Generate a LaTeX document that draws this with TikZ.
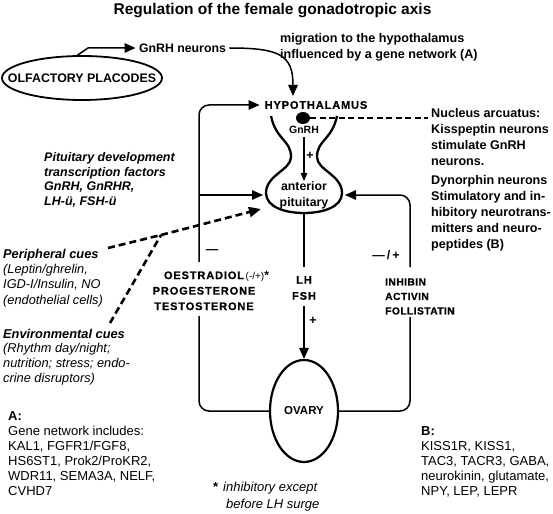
\documentclass[tikz,border=0pt]{standalone}
\usepackage{fontspec}
\setmainfont{Liberation Sans}
\newfontfamily\spc{Liberation Sans Bold}[LetterSpace=8, FakeBold=0.5]
\newfontfamily\spcb{Liberation Sans Bold}[LetterSpace=4, FakeBold=0.5]
\usetikzlibrary{arrows.meta,shapes.geometric,calc}
\begin{document}
\begin{tikzpicture}[x=1pt,y=-1pt,
  conn/.style={line width=1.5pt},
  arr/.style={-{Triangle[length=11pt,width=9.5pt]}},
  dsh/.style={line width=2.6pt, dash pattern=on 7pt off 4pt},
  diag/.style={font=\spc\fontsize{11}{15.5}\selectfont, align=center, inner sep=0pt},
  ann/.style={font=\bfseries\fontsize{12.6}{16}\selectfont, align=left, inner sep=0pt},
  plain/.style={font=\fontsize{13}{15}\selectfont, align=left, inner sep=0pt},
  sign/.style={font=\bfseries\fontsize{12.5}{14}\selectfont, inner sep=0pt}
]
\fill[white] (0,0) rectangle (553,513);
\useasboundingbox (0,0) rectangle (553,513);

% title
\node[font=\bfseries\fontsize{15.5}{18}\selectfont] (title) at (272.5,11) {Regulation of the female gonadotropic axis};

% olfactory placodes and GnRH neurons
\node[ellipse, draw, line width=1.8pt, minimum width=160pt, minimum height=44pt, inner sep=0pt,
  label={[font=\bfseries\fontsize{12.4}{14}\selectfont]center:OLFACTORY PLACODES}] (olf) at (82,78) {};
\node[font=\bfseries\fontsize{12.3}{14}\selectfont] (gnrhn) at (182.5,48) {GnRH neurons};
\coordinate (bend) at (88,48);
\draw[conn, arr] (olf.101) -- (bend) -- (gnrhn.west);

\node[ann, anchor=west] (mig) at (280,47) {migration to the hypothalamus\\influenced by a gene network (A)};

% hypothalamus
\node[diag] (hyp) at (316,105) {HYPOTHALAMUS};
\coordinate (hypin) at (293,96);
\draw[conn, arr] (gnrhn.east) .. controls (280,48) and (293,55) .. (hypin);

% pituitary funnel
\draw[line width=2.3pt] (271,116) .. controls (276,140) and (291,140) .. (291,157)
  .. controls (291,170) and (266,175) .. (266,193)
  .. controls (266,207) and (285,213) .. (304,213)
  .. controls (323,213) and (342,207) .. (342,193)
  .. controls (342,175) and (317,170) .. (317,157)
  .. controls (317,140) and (332,140) .. (337,116);
\node[ellipse, fill, minimum width=14pt, minimum height=12pt, inner sep=0pt] (dot) at (303,118) {};
\node[font=\bfseries\fontsize{10.5}{12}\selectfont, inner sep=3pt] (gnrh) at (304,130) {GnRH};
\node[font=\bfseries\fontsize{12.3}{16}\selectfont, align=center, inner sep=0pt] (pit) at (304,195) {anterior\\pituitary};
\draw[line width=1.3pt, -{Triangle[length=8pt,width=6.5pt]}] (gnrh.south) -- (pit.north);
\node[sign] (plus1) at (310,156) {+};

% nucleus arcuatus text
\node[ann, anchor=west] (nucl) at (431,180) {Nucleus arcuatus:\\Kisspeptin neurons\\stimulate GnRH\\neurons.\\[3pt]Dynorphin neurons\\Stimulatory and in-\\hibitory neurotrans-\\mitters and neuro-\\peptides (B)};
\coordinate (nucE) at (428,118);
\draw[dsh, dash pattern=on 6pt off 3.5pt] (dot.east) -- (nucE);

% ovary
\node[ellipse, draw, line width=2.2pt, minimum width=68pt, minimum height=102pt, inner sep=0pt,
  font=\bfseries\fontsize{11.5}{14}\selectfont] (ovary) at (304,411) {OVARY};

% centre LH / FSH
\coordinate (pitB) at (304,213);
\coordinate (Ctop) at (304,267);
\coordinate (Cdown) at (304,306);
\node[diag, font=\spc\fontsize{11}{16}\selectfont] (lhfsh) at (304,288) {LH\\FSH};
\draw[conn] (pitB) -- (Ctop);
\draw[conn, arr] (Cdown) -- (ovary.north);
\node[sign] (plus2) at (313,321) {+};

% left feedback loop
\coordinate (Lup) at (199,262);
\coordinate (Lmid) at (199,195);
\coordinate (pitL) at (263,195);
\coordinate (Llow) at (199,316);
\draw[conn, arr, rounded corners=10pt, shorten >=5pt] (Lup) |- (hyp.west);
\draw[conn, arr] (Lmid) -- (pitL);
\draw[conn, rounded corners=10pt] (Llow) |- (ovary.west);
\node[sign] (minus1) at (212,252) {—};
\node[diag] (oest) at (204,290.5) {OESTRADIOL\rlap{\normalfont\fontsize{10}{11}\selectfont\,(-/+)\bfseries\fontsize{12}{11}\selectfont*}\\PROGESTERONE\\TESTOSTERONE};

% right feedback loop
\coordinate (Rup) at (410,267);
\coordinate (pitR) at (345,195);
\coordinate (Rlow) at (410,317);
\draw[conn, arr, rounded corners=10pt] (Rup) |- (pitR);
\draw[conn, rounded corners=10pt] (Rlow) |- (ovary.east);
\node[sign] (mp) at (386,255) {—\,/\,+};
\node[diag, align=left, anchor=west, font=\spcb\fontsize{10.3}{14.5}\selectfont] (inh) at (385,296.5) {INHIBIN\\ACTIVIN\\FOLLISTATIN};

% left annotations
\node[ann, anchor=west, font=\bfseries\itshape\fontsize{12.5}{14.7}\selectfont] (pitdev) at (44,180) {Pituitary development\\transcription factors\\GnRH, GnRHR,\\LH-ü, FSH-ü};
\node[plain, anchor=west, font=\itshape\fontsize{12.8}{15.3}\selectfont] (peri) at (3,278) {\textbf{Peripheral cues}\\(Leptin/ghrelin,\\IGD-I/Insulin, NO\\(endothelial cells)};
\node[plain, anchor=west, font=\itshape\fontsize{12.8}{14.7}\selectfont] (env) at (3,357) {\textbf{Environmental cues}\\(Rhythm day/night;\\nutrition; stress; endo-\\crine disruptors)};

% dashed cue lines
\coordinate (J) at (161,235);
\coordinate (periE) at (108,248);
\coordinate (envN) at (110,323);
\coordinate (dTip) at (261,209);
\draw[dsh] (periE) -- (J);
\draw[dsh] (envN) -- (J);
\draw[dsh, -{Triangle[length=12pt,width=10pt]}] (J) -- (dTip);

% gene lists
\node[plain, anchor=west] (Ablk) at (8,453.5) {\textbf{A:}\\Gene network includes:\\KAL1, FGFR1/FGF8,\\HS6ST1, Prok2/ProKR2,\\WDR11, SEMA3A, NELF,\\CVHD7};
\node[plain, anchor=west] (Bblk) at (421,462) {\textbf{B:}\\KISS1R, KISS1,\\TAC3, TACR3, GABA,\\neurokinin, glutamate,\\NPY, LEP, LEPR};

% footnote
\node[plain, anchor=west, font=\itshape\fontsize{13}{16.5}\selectfont] (foot) at (223,496.5) {\llap{\upshape\bfseries *\hspace{5pt}}inhibitory except\\\hspace{3pt}before LH surge};
\end{tikzpicture}
\end{document}
